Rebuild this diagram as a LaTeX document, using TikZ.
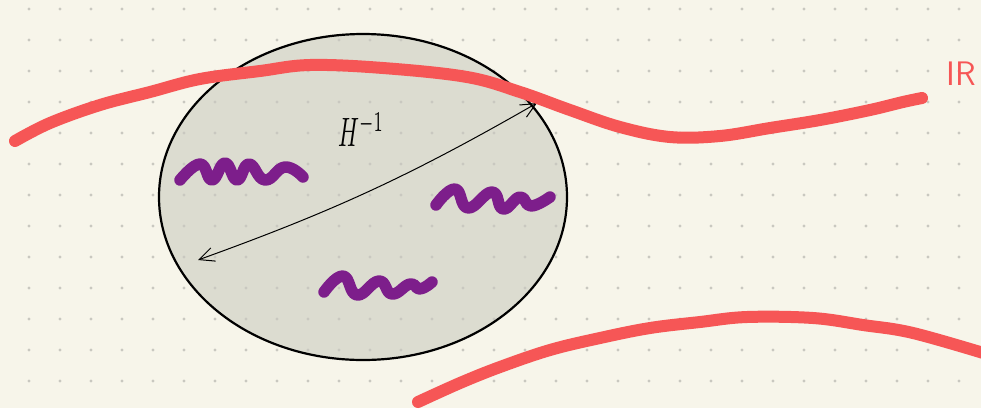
\documentclass[tikz,border=0pt]{standalone}
\usepackage{amsmath,amssymb}
\usepackage{tikz}
\usetikzlibrary{shapes,arrows.meta,positioning,calc}
\usepackage{xcolor}
\definecolor{paper}{HTML}{F7F5EA}
\definecolor{diskgrey}{HTML}{DCDCD0}
\definecolor{penred}{HTML}{F65656}
\definecolor{penpurple}{HTML}{7D1E8B}
\definecolor{griddot}{HTML}{C9C8C0}

\begin{document}
\begin{tikzpicture}[x=1pt, y=-1pt, >=Stealth]
    \tikzstyle{red stroke} = [draw=penred, line width=12pt, line cap=round, line join=round]
    \tikzstyle{wiggle} = [draw=penpurple, line width=11.5pt, line cap=round, line join=round]
    \tikzstyle{dot} = [fill=griddot]
    \fill[paper] (0,0) rectangle (981,408);
    \useasboundingbox (0,0) rectangle (981,408);
    % the disk
    \node[ellipse, fill=diskgrey, minimum width=408pt, minimum height=326pt, inner sep=0pt] (ball) at (363,197) {};
    % dotted paper
    \foreach \i in {0,...,30}
        \foreach \j in {0,...,12}
            \fill[dot] (29+31*\i, 9+31*\j) circle (1.6pt);
    \draw[line width=2.2pt] (ball.center) ellipse [x radius=204, y radius=163];
    % inverse map across the disk
    \coordinate (lo) at (198,260);
    \coordinate (hi) at (537,103);
    \draw[{Straight Barb[length=15pt,width=14pt]}-{Straight Barb[length=15pt,width=14pt]}, line width=1pt] (lo) to[bend right=5] (hi);
    \node (hinv) at (361,130) {\scalebox{2.3}[4.1]{$H^{-1}$}};
    % wiggles inside
    \draw[wiggle] plot[smooth, tension=0.8] coordinates {(180,180) (200,164) (212,180) (225,163) (237,180) (249,164) (265,180) (285,167) (303,177)};
    \draw[wiggle] plot[smooth, tension=0.8] coordinates {(436,205) (455,189) (468,208) (492,192) (503,209) (520,197) (531,206) (550,197)};
    \draw[wiggle] plot[smooth, tension=0.8] coordinates {(324,292) (343,276) (357,295) (379,281) (392,294) (410,284) (420,289) (432,282)};
    % red lines
    \draw[red stroke] plot[smooth, tension=0.6] coordinates {(15,141) (50,123) (100,105) (150,92) (200,79) (260,71) (310,65) (383,68) (467,77) (520,92) (570,110) (620,127) (670,137) (720,136) (770,128) (820,120) (870,110) (903,102) (922,98)};
    \draw[red stroke] plot[smooth, tension=0.6] coordinates {(418,402) (460,383) (500,367) (550,350) (600,338) (650,328) (700,322) (747,317) (813,318) (863,325) (913,333) (990,355)};
    \node[text=penred, font=\sffamily\fontsize{34}{40}\selectfont] (reals) at (961,74) {IR};
\end{tikzpicture}
\end{document}
